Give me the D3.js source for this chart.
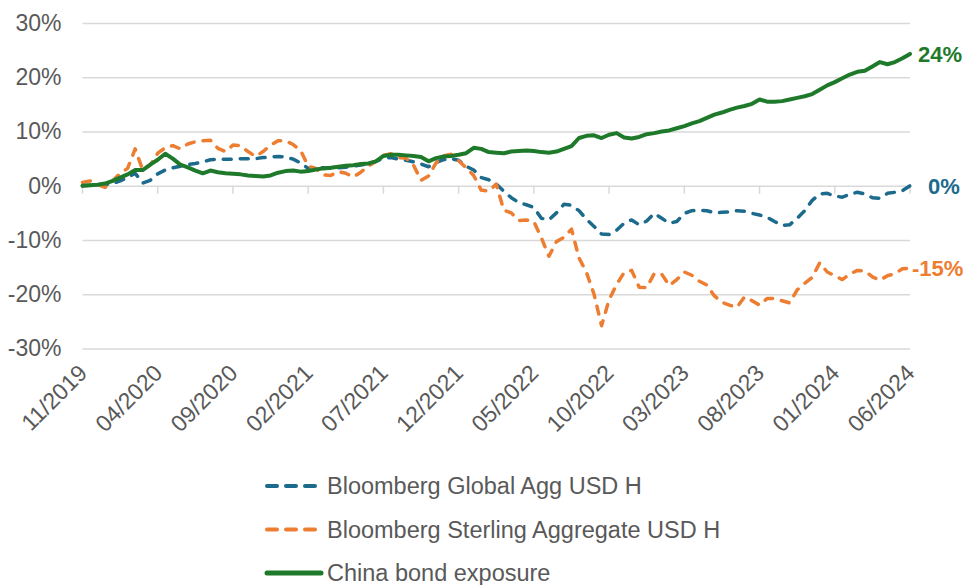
<!DOCTYPE html>
<html lang="en">
<head>
    <meta charset="UTF-8">
    <title>Bond index comparison</title>
    <script src="https://d3js.org/d3.v7.min.js"></script>
    <style>
        body { margin: 0; background: #fff; }
        text { font-family: "Liberation Sans", Arial, sans-serif; }
    </style>
</head>
<body>
    <div id="chart"></div>
    <script>
        // Half-monthly points from 11/2019 to 06/2024 (cumulative return, %)
        const tickLabels = ["11/2019", "04/2020", "09/2020", "02/2021", "07/2021", "12/2021",
                            "05/2022", "10/2022", "03/2023", "08/2023", "01/2024", "06/2024"];
        const yTicks = [30, 20, 10, 0, -10, -20, -30];

        const globalAgg = [
            0.0, 0.1, 0.1, 0.2, 0.4, 0.9, 1.5, 2.3, 0.5, 1.0,
            2.2, 2.9, 3.3, 3.6, 3.9, 4.1, 4.4, 4.8, 4.9, 4.9,
            4.9, 5.0, 5.0, 5.0, 5.2, 5.3, 5.4, 5.3, 4.9, 4.2,
            3.2, 3.4, 3.3, 3.2, 3.3, 3.4, 3.6, 3.8, 4.1, 4.5,
            5.1, 5.2, 4.9, 4.7, 4.4, 4.0, 3.5, 4.3, 4.8, 5.0,
            4.7, 3.6, 2.9, 1.5, 1.1, 0.3, -1.0, -2.2, -3.1, -3.5,
            -4.0, -6.0, -6.3, -5.0, -3.4, -3.6, -4.6, -6.2, -7.5, -8.9,
            -9.0, -8.2, -6.9, -6.3, -7.2, -6.5, -5.1, -6.0, -6.9, -6.6,
            -5.1, -4.6, -4.5, -4.6, -5.0, -4.9, -4.8, -4.6, -4.7, -5.1,
            -5.4, -5.8, -6.6, -7.3, -7.2, -6.0, -4.6, -2.7, -1.5, -1.4,
            -1.9, -2.1, -1.6, -1.2, -1.5, -2.2, -2.3, -1.4, -1.2, -0.9,
            0.0
        ];
        const sterlingAgg = [
            0.6, 0.9, 0.2, -0.3, 0.9, 2.3, 3.2, 6.8, 2.9, 3.8,
            6.0, 7.0, 7.4, 6.8, 7.7, 8.1, 8.3, 8.4, 6.9, 6.3,
            7.5, 7.4, 6.3, 5.4, 6.3, 7.5, 8.3, 8.3, 7.6, 6.5,
            3.6, 3.2, 2.0, 1.9, 2.6, 2.3, 1.6, 2.5, 3.6, 4.5,
            5.6, 5.9, 5.2, 5.1, 3.8, 1.0, 1.8, 4.2, 5.5, 5.8,
            4.6, 3.3, 1.9, -0.8, -1.0, 0.3, -4.5, -5.0, -6.4, -6.3,
            -6.6, -9.6, -13.0, -10.3, -9.5, -8.0, -13.3, -16.0, -20.0, -25.8,
            -21.0, -18.2, -16.0, -15.6, -18.7, -18.8, -16.2, -16.3, -18.4, -17.3,
            -15.9, -16.5, -17.6, -18.3, -20.3, -21.5, -22.0, -22.4, -20.5, -21.2,
            -22.0, -20.8, -20.8, -21.2, -21.6, -19.2, -18.0, -16.9, -14.2, -15.9,
            -16.6, -17.3, -16.3, -15.6, -15.7, -16.8, -17.4, -16.6, -16.2, -15.3,
            -15.2
        ];
        const chinaBond = [
            0.0, 0.1, 0.2, 0.4, 0.9, 1.5, 2.1, 2.9, 2.9, 3.9,
            4.8, 5.9, 5.0, 3.9, 3.4, 2.8, 2.3, 2.8, 2.5, 2.3,
            2.2, 2.1, 1.9, 1.8, 1.7, 1.9, 2.4, 2.7, 2.8, 2.6,
            2.7, 3.0, 3.2, 3.3, 3.5, 3.7, 3.8, 4.0, 4.1, 4.5,
            5.5, 5.7, 5.7, 5.6, 5.5, 5.3, 4.5, 5.1, 5.4, 5.5,
            5.7, 6.0, 7.0, 6.8, 6.2, 6.1, 6.0, 6.3, 6.4, 6.5,
            6.4, 6.2, 6.1, 6.3, 6.8, 7.3, 8.8, 9.2, 9.3, 8.8,
            9.4, 9.7, 8.9, 8.7, 9.0, 9.5, 9.7, 10.0, 10.2, 10.6,
            11.0, 11.5, 11.9, 12.5, 13.1, 13.5, 14.0, 14.4, 14.7, 15.1,
            15.9, 15.5, 15.5, 15.6, 15.9, 16.2, 16.5, 16.9, 17.7, 18.5,
            19.1, 19.8, 20.5, 21.0, 21.2, 22.0, 22.8, 22.4, 22.8, 23.5,
            24.3
        ];

        const seriesNames = ["Bloomberg Global Agg USD H", "Bloomberg Sterling Aggregate USD H", "China bond exposure"];
        const seriesColors = ["#1c6a8c", "#ed7d31", "#1e7a2a"];

        const series = [
            { name: seriesNames[0], values: globalAgg, color: seriesColors[0], dashed: true },
            { name: seriesNames[1], values: sterlingAgg, color: seriesColors[1], dashed: true },
            { name: seriesNames[2], values: chinaBond, color: seriesColors[2], dashed: false }
        ];

        const W = 968, H = 585;
        const plot = { left: 82.5, right: 910, top: 23, bottom: 348.5 };

        const svg = d3.select("#chart").append("svg")
            .attr("width", W)
            .attr("height", H);

        const n = chinaBond.length;
        const x = d3.scaleLinear().domain([0, n - 1]).range([plot.left, plot.right]);
        const y = d3.scaleLinear().domain([-30, 30]).range([plot.bottom, plot.top]);
        const step = (n - 1) / (tickLabels.length - 1);

        // gridlines + y labels
        const yAxis = d3.axisLeft(y)
            .tickValues(yTicks)
            .tickSize(-(plot.right - plot.left))
            .tickPadding(21)
            .tickFormat(d => d + "%");
        const gy = svg.append("g")
            .attr("transform", `translate(${plot.left},0)`)
            .call(yAxis);
        gy.select(".domain").remove();
        gy.selectAll(".tick line").attr("stroke", "#d9d9d9").attr("stroke-width", 1.5);
        gy.selectAll(".tick text")
            .attr("fill", "#595959")
            .attr("font-size", "23px")
            .attr("font-family", "Liberation Sans, Arial, sans-serif");

        // x ticks hang off the zero line
        const tickIdx = tickLabels.map((d, i) => i * step);
        svg.append("g").selectAll("line")
            .data(tickIdx)
            .join("line")
            .attr("x1", d => x(d)).attr("x2", d => x(d))
            .attr("y1", y(0)).attr("y2", y(0) + 8)
            .attr("stroke", "#d9d9d9")
            .attr("stroke-width", 1.5);

        svg.append("g").selectAll("text")
            .data(tickLabels)
            .join("text")
            .attr("transform", (d, i) => `translate(${x(i * step) + 6},${plot.bottom + 26}) rotate(-45)`)
            .attr("text-anchor", "end")
            .attr("fill", "#595959")
            .attr("font-size", "23px")
            .text(d => d);

        // lines
        const line = d3.line()
            .x((d, i) => x(i))
            .y(d => y(d));

        svg.append("g").selectAll("path")
            .data(series)
            .join("path")
            .attr("d", d => line(d.values))
            .attr("fill", "none")
            .attr("stroke", d => d.color)
            .attr("stroke-width", d => d.dashed ? 3.5 : 4)
            .attr("stroke-linejoin", "round")
            .attr("stroke-linecap", "round")
            .attr("stroke-dasharray", d => d.dashed ? "8,9" : null);

        // end labels
        const endDx = [18, 2, 8];
        svg.append("g").selectAll("text")
            .data(series)
            .join("text")
            .attr("x", (d, i) => plot.right + endDx[i])
            .attr("y", d => y(d.values[n - 1]) + 8)
            .attr("fill", d => d.color)
            .attr("font-size", "22px")
            .attr("font-weight", "bold")
            .text(d => Math.round(d.values[n - 1]) + "%");

        // legend
        const legend = svg.append("g").attr("transform", "translate(265,486)");
        const item = legend.selectAll("g")
            .data(series)
            .join("g")
            .attr("transform", (d, i) => `translate(0,${i * 43.5})`);
        item.append("line")
            .attr("x1", 2).attr("x2", d => d.dashed ? 52 : 56)
            .attr("y1", 0).attr("y2", 0)
            .attr("stroke", d => d.color)
            .attr("stroke-width", d => d.dashed ? 4 : 5)
            .attr("stroke-linecap", "round")
            .attr("stroke-dasharray", d => d.dashed ? "10,9" : null);
        item.append("text")
            .attr("x", 62)
            .attr("y", 8)
            .attr("fill", "#595959")
            .attr("font-size", "23.5px")
            .text(d => d.name);
    </script>
</body>
</html>
